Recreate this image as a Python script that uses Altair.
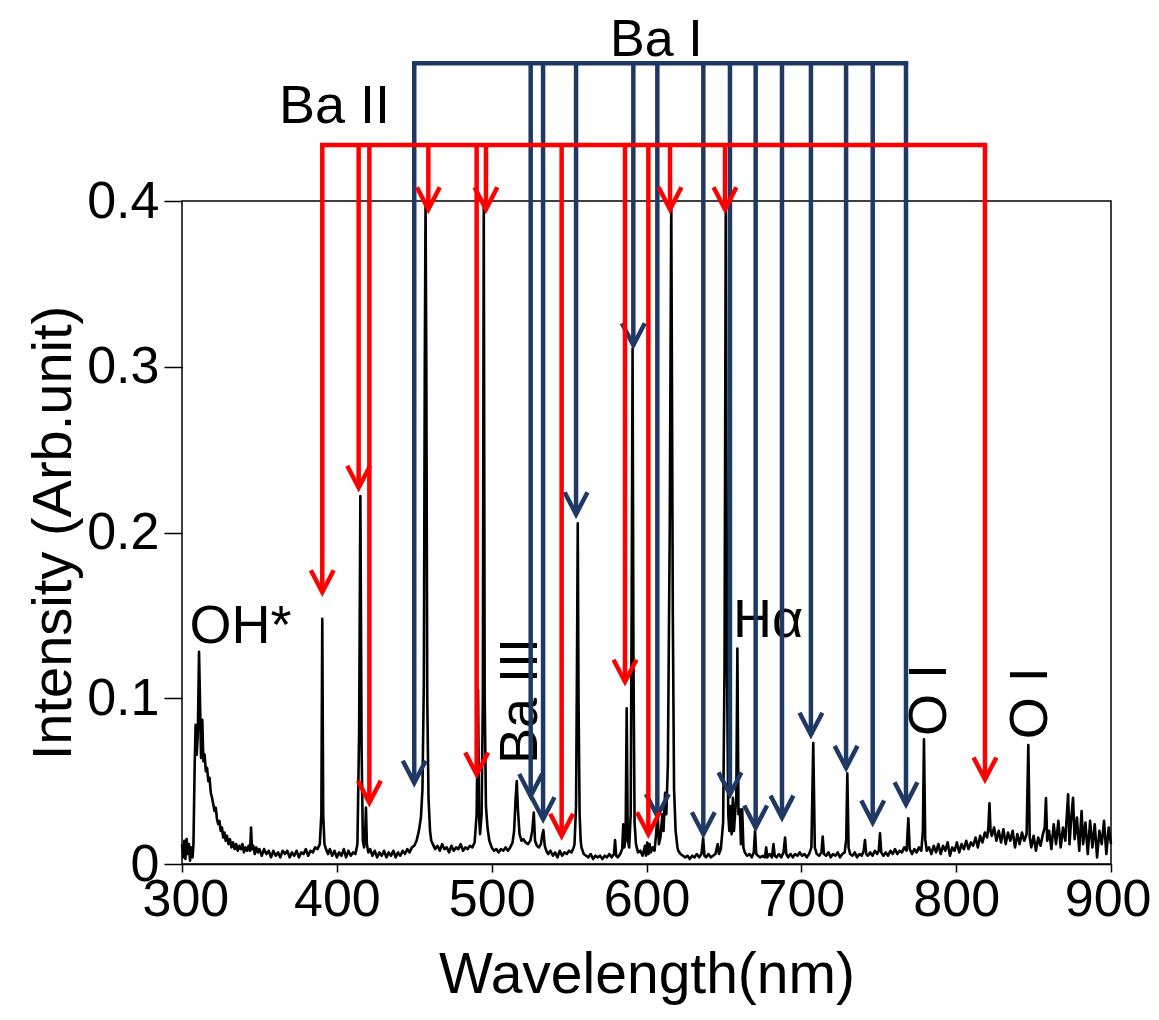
import altair as alt
import pandas as pd

# ---------------- data ----------------
wavelength = [
    300.0, 300.8, 301.5, 302.2, 303.0, 303.7, 304.5, 305.2, 306.0, 306.8, 307.4, 308.2, 308.8, 309.5, 310.2,
    311.0, 311.7, 312.3, 313.1, 313.8, 314.6, 315.4, 316.2, 317.0, 317.8, 318.6, 319.4, 320.2, 321.0, 321.8,
    322.6, 323.4, 324.2, 325.0, 325.8, 326.6, 327.4, 328.2, 329.0, 330.0, 331.0, 332.0, 333.0, 334.0, 335.0,
    336.0, 337.0, 338.0, 339.0, 340.0, 341.0, 342.0, 343.0, 344.0, 344.6, 345.2, 346.0, 347.0, 348.0, 349.0,
    350.0, 351.5, 353.0, 354.5, 356.0, 357.5, 359.0, 360.5, 362.0, 363.5, 365.0, 366.5, 368.0, 369.5, 371.0,
    372.5, 374.0, 375.5, 377.0, 378.5, 380.0, 381.5, 383.0, 384.5, 386.0, 387.5, 389.0, 390.0, 390.6, 391.2,
    392.0, 393.0, 394.3, 395.5, 397.0, 398.5, 400.0, 401.5, 403.0, 404.5, 406.0, 407.5, 409.0, 410.5, 412.0,
    413.3, 414.4, 415.2, 416.0, 416.8, 417.6, 418.3, 418.8, 419.4, 420.3, 421.5, 423.0, 424.5, 426.0, 427.5,
    429.0, 430.5, 432.0, 433.5, 435.0, 436.5, 438.0, 439.5, 441.0, 442.5, 444.0, 445.5, 447.0, 448.5, 450.0,
    451.5, 453.0, 454.3, 455.3, 456.2, 456.8, 457.3, 457.8, 458.4, 459.2, 460.2, 461.0, 462.0, 463.5, 465.0,
    466.5, 468.0, 469.5, 471.0, 472.5, 474.0, 475.5, 477.0, 478.5, 480.0, 481.5, 483.0, 484.5, 486.0, 487.5,
    489.0, 490.3, 491.2, 491.8, 492.5, 493.5, 494.3, 494.9, 495.5, 496.3, 497.3, 498.5, 500.0, 501.5, 503.0,
    504.5, 506.0, 507.5, 509.0, 510.5, 512.0, 513.5, 514.5, 515.5, 516.2, 517.0, 518.0, 519.3, 520.5, 522.0,
    523.5, 525.0, 526.2, 527.2, 528.0, 529.2, 530.5, 531.8, 532.6, 533.4, 534.3, 535.3, 536.5, 538.0, 539.5,
    541.0, 542.5, 544.0, 545.5, 547.0, 548.5, 550.0, 551.5, 553.0, 553.5, 554.5, 555.1, 555.6, 556.1, 556.8,
    557.5, 558.0, 559.5, 561.0, 562.5, 564.0, 565.5, 567.0, 568.5, 570.0, 571.5, 573.0, 574.5, 576.0, 577.5,
    579.0, 579.7, 580.4, 581.5, 583.0, 584.3, 585.0, 585.7, 586.5, 587.2, 587.9, 588.8, 589.8, 590.4, 591.0,
    591.6, 592.3, 593.2, 594.5, 596.0, 597.5, 599.0, 599.7, 600.5, 601.3, 602.0, 602.8, 604.0, 605.2, 606.2,
    607.2, 608.0, 609.0, 610.3, 611.0, 612.0, 612.8, 613.8, 615.0, 616.0, 617.0, 617.8, 618.8, 620.0, 620.5,
    622.0, 623.5, 625.0, 626.5, 628.0, 629.5, 631.0, 632.5, 634.0, 635.5, 636.6, 637.4, 638.5, 640.0, 641.5,
    643.0, 644.5, 646.0, 646.8, 648.0, 649.5, 650.4, 651.2, 652.0, 652.8, 653.5, 654.3, 655.0, 655.8, 656.5,
    657.2, 658.0, 658.7, 659.4, 660.3, 661.0, 661.8, 662.6, 663.5, 665.0, 666.5, 668.0, 669.3, 670.1, 670.9,
    672.0, 673.5, 675.0, 676.5, 677.3, 678.0, 679.5, 681.0, 682.0, 682.8, 684.0, 685.5, 687.0, 688.5, 689.5,
    690.3, 691.5, 693.0, 694.5, 696.0, 697.5, 699.0, 700.5, 702.0, 703.5, 705.0, 706.5, 707.7, 708.7, 710.0,
    711.5, 713.0, 713.8, 714.6, 716.0, 717.5, 719.0, 720.5, 722.0, 723.5, 725.0, 726.5, 728.0, 729.0, 729.7,
    730.5, 731.5, 733.0, 734.5, 736.0, 737.5, 739.0, 740.3, 741.1, 741.9, 743.0, 744.5, 746.0, 747.5, 749.0,
    750.0, 750.8, 751.6, 753.0, 754.5, 756.0, 757.5, 759.0, 760.5, 762.0, 763.5, 765.0, 766.5, 768.0, 769.1,
    770.0, 771.5, 773.0, 774.5, 776.0, 777.5, 778.5, 779.2, 780.0, 781.0, 782.5, 784.0, 785.5, 787.0, 788.5,
    790.0, 791.5, 793.0, 794.5, 796.0, 797.5, 799.0, 800.5, 802.0, 803.5, 805.0, 806.5, 808.0, 809.5, 811.0,
    812.5, 814.0, 815.5, 817.0, 818.5, 820.0, 820.8, 821.5, 822.2, 823.0, 824.5, 826.0, 827.5, 829.0, 830.5,
    832.0, 833.5, 835.0, 836.5, 838.0, 839.5, 841.0, 842.5, 844.0, 845.5, 846.6, 847.5, 848.5, 850.0, 851.5,
    853.0, 854.5, 856.0, 857.2, 858.0, 858.8, 860.0, 861.5, 863.0, 864.5, 866.0, 867.5, 869.0, 870.5, 871.5,
    872.3, 873.2, 874.5, 875.5, 876.5, 878.0, 879.5, 881.0, 882.0, 883.5, 885.0, 886.5, 888.0, 889.5, 891.0,
    892.5, 894.0, 895.5, 897.0, 898.5, 900.0,
]
intensity = [
    0.012, 0.004, 0.014, 0.003, 0.015, 0.006, 0.012, 0.002, 0.010, 0.004, 0.012, 0.060, 0.084, 0.066, 0.078,
    0.128, 0.095, 0.064, 0.087, 0.062, 0.066, 0.056, 0.058, 0.050, 0.052, 0.043, 0.040, 0.036, 0.032, 0.034,
    0.027, 0.024, 0.026, 0.020, 0.022, 0.016, 0.019, 0.014, 0.017, 0.012, 0.015, 0.010, 0.013, 0.009, 0.012,
    0.008, 0.011, 0.009, 0.012, 0.007, 0.010, 0.008, 0.011, 0.008, 0.022, 0.009, 0.011, 0.006, 0.010, 0.007,
    0.009, 0.005, 0.009, 0.006, 0.008, 0.004, 0.008, 0.005, 0.007, 0.004, 0.008, 0.006, 0.008, 0.004, 0.007,
    0.005, 0.008, 0.004, 0.007, 0.006, 0.009, 0.005, 0.008, 0.007, 0.010, 0.009, 0.012, 0.030, 0.148, 0.030,
    0.012, 0.009, 0.006, 0.009, 0.005, 0.008, 0.004, 0.007, 0.005, 0.009, 0.004, 0.008, 0.005, 0.007, 0.006,
    0.012, 0.080, 0.222, 0.070, 0.014, 0.010, 0.018, 0.034, 0.012, 0.007, 0.009, 0.005, 0.008, 0.004, 0.007,
    0.005, 0.008, 0.004, 0.007, 0.005, 0.008, 0.004, 0.007, 0.005, 0.008, 0.006, 0.009, 0.007, 0.010, 0.011,
    0.014, 0.020, 0.028, 0.045, 0.110, 0.300, 0.450, 0.300, 0.100, 0.040, 0.020, 0.014, 0.012, 0.009, 0.011,
    0.008, 0.012, 0.009, 0.010, 0.007, 0.011, 0.008, 0.010, 0.009, 0.012, 0.008, 0.010, 0.009, 0.011, 0.010,
    0.013, 0.030, 0.105, 0.030, 0.018, 0.030, 0.100, 0.450, 0.100, 0.035, 0.022, 0.014, 0.010, 0.008, 0.009,
    0.007, 0.009, 0.008, 0.010, 0.008, 0.010, 0.013, 0.020, 0.040, 0.050, 0.032, 0.018, 0.014, 0.015, 0.013,
    0.012, 0.014, 0.020, 0.031, 0.014, 0.011, 0.010, 0.012, 0.017, 0.0205, 0.011, 0.008, 0.006, 0.008, 0.005,
    0.007, 0.004, 0.008, 0.005, 0.007, 0.006, 0.008, 0.007, 0.010, 0.012, 0.035, 0.120, 0.2055, 0.100, 0.030,
    0.014, 0.010, 0.006, 0.005, 0.004, 0.006, 0.003, 0.005, 0.004, 0.005, 0.003, 0.005, 0.004, 0.006, 0.004,
    0.006, 0.0145, 0.005, 0.004, 0.006, 0.009, 0.024, 0.010, 0.015, 0.094, 0.015, 0.010, 0.030, 0.150, 0.311,
    0.120, 0.025, 0.012, 0.007, 0.008, 0.005, 0.011, 0.005, 0.013, 0.006, 0.012, 0.007, 0.010, 0.008, 0.018,
    0.031, 0.012, 0.016, 0.030, 0.020, 0.043, 0.030, 0.060, 0.200, 0.450, 0.150, 0.045, 0.020, 0.010, 0.008,
    0.006, 0.005, 0.004, 0.005, 0.003, 0.005, 0.004, 0.006, 0.004, 0.006, 0.0157, 0.005, 0.004, 0.006, 0.004,
    0.005, 0.006, 0.012, 0.006, 0.009, 0.025, 0.120, 0.450, 0.120, 0.030, 0.020, 0.035, 0.018, 0.040, 0.020,
    0.030, 0.040, 0.130, 0.030, 0.033, 0.012, 0.033, 0.010, 0.007, 0.005, 0.006, 0.004, 0.007, 0.020, 0.006,
    0.005, 0.004, 0.005, 0.004, 0.010, 0.004, 0.006, 0.004, 0.012, 0.005, 0.004, 0.006, 0.004, 0.007, 0.016,
    0.006, 0.004, 0.006, 0.004, 0.006, 0.005, 0.007, 0.005, 0.006, 0.004, 0.006, 0.010, 0.073, 0.010, 0.006,
    0.005, 0.007, 0.0165, 0.006, 0.005, 0.007, 0.004, 0.006, 0.005, 0.007, 0.004, 0.006, 0.007, 0.015, 0.0547,
    0.010, 0.006, 0.005, 0.007, 0.004, 0.006, 0.005, 0.008, 0.0145, 0.006, 0.005, 0.007, 0.005, 0.008, 0.006,
    0.008, 0.0185, 0.007, 0.005, 0.007, 0.005, 0.008, 0.006, 0.009, 0.006, 0.008, 0.007, 0.010, 0.008, 0.0276,
    0.009, 0.006, 0.009, 0.007, 0.010, 0.008, 0.020, 0.0752, 0.015, 0.008, 0.010, 0.006, 0.011, 0.007, 0.012,
    0.006, 0.011, 0.008, 0.013, 0.005, 0.010, 0.008, 0.013, 0.007, 0.012, 0.009, 0.014, 0.009, 0.013, 0.011,
    0.016, 0.010, 0.017, 0.013, 0.019, 0.016, 0.022, 0.0366, 0.020, 0.017, 0.022, 0.014, 0.020, 0.013, 0.021,
    0.012, 0.019, 0.014, 0.020, 0.010, 0.018, 0.012, 0.019, 0.014, 0.018, 0.0718, 0.016, 0.010, 0.017, 0.008,
    0.016, 0.011, 0.018, 0.022, 0.0398, 0.014, 0.020, 0.009, 0.024, 0.012, 0.026, 0.010, 0.022, 0.014, 0.030,
    0.042, 0.012, 0.030, 0.040, 0.015, 0.028, 0.008, 0.032, 0.012, 0.025, 0.006, 0.026, 0.010, 0.024, 0.004,
    0.020, 0.012, 0.026, 0.006, 0.022, 0.012,
]

# Ba I (blue) arrows: wavelength and arrow-tip intensity
ba1_wl = [450.0, 525.2, 533.2, 554.5, 591.5, 607.0, 636.7, 653.9, 670.5, 687.5, 706.2, 728.9, 746.1, 767.6]
ba1_tip = [0.049, 0.041, 0.027, 0.211, 0.313, 0.029, 0.018, 0.042, 0.022, 0.028, 0.078, 0.058, 0.025, 0.036]
ba1_level = 0.4831
# Ba II (red) arrows
ba2_wl = [390.6, 414.1, 421.0, 459.1, 490.3, 496.3, 545.2, 586.1, 601.2, 615.2, 650.7, 818.6]
ba2_tip = [0.164, 0.227, 0.037, 0.395, 0.054, 0.395, 0.017, 0.110, 0.018, 0.395, 0.395, 0.051]
ba2_level = 0.4338

x_ticks = [300, 400, 500, 600, 700, 800, 900]
y_ticks = [0, 0.1, 0.2, 0.3, 0.4]

label_text = ["Ba I", "Ba II", "OH*", "H\u03b1"]
label_x = [576.5, 362.6, 304.8, 655.9]
label_y = [0.4875, 0.4470, 0.1333, 0.1370]
label_size = [52, 54, 54, 54]

vlabel_text = ["Ba III", "O I", "O I"]
vlabel_x = [529.3, 793.4, 858.7]
vlabel_y = [0.0603, 0.0772, 0.0752]

BLUE = "#1f3864"
RED = "#ff0000"
FONT = "Liberation Sans"

# ---------------- layout ----------------
PLOT_W = 929
PLOT_H = 856
Y_TOP = PLOT_H / 1657.5  # y-domain top so that 0..0.4 spans the framed box

spec = pd.DataFrame({"wl": wavelength, "I": intensity})
frame = pd.DataFrame({"x": [x_ticks[0]], "x2": [x_ticks[-1]], "y": [y_ticks[0]], "y2": [y_ticks[-1]]})
b1 = pd.DataFrame({"wl": ba1_wl, "tip": ba1_tip, "lvl": [ba1_level] * len(ba1_wl)})
b2 = pd.DataFrame({"wl": ba2_wl, "tip": ba2_tip, "lvl": [ba2_level] * len(ba2_wl)})
b1h = pd.DataFrame({"x": [min(ba1_wl)], "x2": [max(ba1_wl)], "y": [ba1_level]})
b2h = pd.DataFrame({"x": [min(ba2_wl)], "x2": [max(ba2_wl)], "y": [ba2_level]})
labels = pd.DataFrame({"t": label_text, "x": label_x, "y": label_y, "s": label_size})
vlabels = pd.DataFrame({"t": vlabel_text, "x": vlabel_x, "y": vlabel_y})

xs = alt.Scale(domain=[x_ticks[0], x_ticks[-1]], nice=False, zero=False)
ys = alt.Scale(domain=[0, Y_TOP], nice=False, zero=False)

x_axis = alt.Axis(values=x_ticks, format="d", grid=False, domain=True, domainColor="black",
                  domainWidth=1.5, tickColor="black", tickWidth=1.5, tickSize=8,
                  labelFontSize=52, labelColor="black", labelPadding=2, labelOverlap=False,
                  labelFlush=True, labelFlushOffset=40,
                  labelFont=FONT, title="Wavelength(nm)", titleFontSize=57,
                  titleFontWeight="normal", titleColor="black", titleFont=FONT, titlePadding=22)
y_axis = alt.Axis(values=y_ticks, format=".1~f", grid=False, domain=False,
                  tickColor="black", tickWidth=1.5, tickSize=18,
                  labelFontSize=52, labelColor="black", labelPadding=5, labelOverlap=False,
                  labelFont=FONT, title="Intensity (Arb.unit)", titleFontSize=56,
                  titleFontWeight="normal", titleColor="black", titleFont=FONT,
                  titleAngle=270, titleAlign="center", titleBaseline="alphabetic",
                  titleX=-112, titleY=524.5)

chevron = "M-0.52,-1L0,0L0.52,-1"

frame_layer = alt.Chart(frame).mark_rect(filled=False, stroke="black", strokeWidth=1.5).encode(
    x=alt.X("x:Q", scale=xs, axis=x_axis), x2="x2:Q",
    y=alt.Y("y:Q", scale=ys, axis=y_axis), y2="y2:Q")

spec_layer = alt.Chart(spec).transform_calculate(
    Ic=f"min(datum.I, {y_ticks[-1]})"
).mark_line(color="black", strokeWidth=2.6, strokeJoin="round").encode(
    x=alt.X("wl:Q", scale=xs), y=alt.Y("Ic:Q", scale=ys), order="wl:Q")

text_layer = alt.Chart(labels).mark_text(align="left", baseline="alphabetic",
                                         font=FONT, color="black").encode(
    x=alt.X("x:Q", scale=xs), y=alt.Y("y:Q", scale=ys), text="t:N",
    size=alt.Size("s:Q", scale=None, legend=None))

vtext_layer = alt.Chart(vlabels).mark_text(align="left", baseline="alphabetic", fontSize=54,
                                           font=FONT, color="black", angle=270).encode(
    x=alt.X("x:Q", scale=xs), y=alt.Y("y:Q", scale=ys), text="t:N")


def arrow_layers(df, hdf, color):
    h = alt.Chart(hdf).mark_rule(color=color, strokeWidth=4.5, strokeCap="square").encode(
        x=alt.X("x:Q", scale=xs), x2="x2:Q", y=alt.Y("y:Q", scale=ys))
    v = alt.Chart(df).mark_rule(color=color, strokeWidth=4.5).encode(
        x=alt.X("wl:Q", scale=xs), y=alt.Y("lvl:Q", scale=ys), y2="tip:Q")
    p = alt.Chart(df).mark_point(shape=chevron, size=1936, filled=False, strokeWidth=4.5,
                                 color=color, opacity=1, strokeJoin="miter").encode(
        x=alt.X("wl:Q", scale=xs), y=alt.Y("tip:Q", scale=ys))
    return [h, v, p]


chart = alt.layer(
    frame_layer, spec_layer, text_layer, vtext_layer,
    *arrow_layers(b1, b1h, BLUE), *arrow_layers(b2, b2h, RED)
).properties(
    width=PLOT_W, height=PLOT_H,
    autosize=alt.AutoSizeParams(type="none"),
    padding={"left": 174, "top": 0, "right": 40, "bottom": 148},
).configure(font=FONT).configure_view(stroke="transparent")

chart.save("out.html", embed_options={"renderer": "svg", "actions": False})
